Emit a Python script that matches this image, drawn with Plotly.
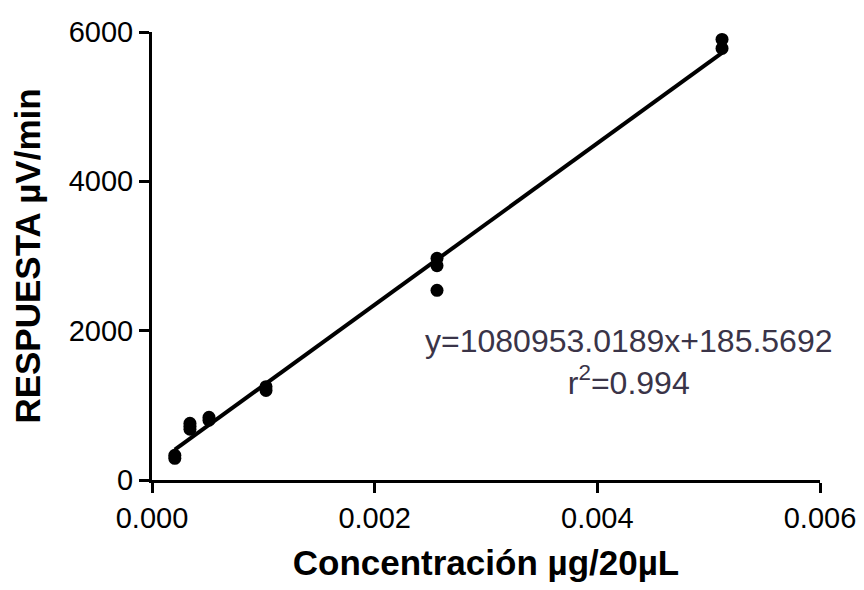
import plotly.graph_objects as go

conc = [0.000205, 0.000205, 0.000341, 0.000341, 0.000341, 0.000512, 0.000512,
        0.001024, 0.001024, 0.00256, 0.00256, 0.00256, 0.00512, 0.00512]
resp = [290, 330, 680, 720, 760, 800, 840,
        1200, 1250, 2870, 2970, 2540, 5780, 5900]
slope = 1080953.0189
intercept = 185.5692
eq_text = "y=1080953.0189x+185.5692<br>r<sup>2</sup>=0.994"
x_ticks = [0.0, 0.002, 0.004, 0.006]
x_labels = ["0.000", "0.002", "0.004", "0.006"]
y_ticks = [0, 2000, 4000, 6000]

xfit = [min(conc), max(conc)]
yfit = [slope * v + intercept for v in xfit]

fig = go.Figure()
fig.add_trace(go.Scatter(x=xfit, y=yfit, mode="lines",
                         line=dict(color="black", width=4), hoverinfo="skip"))
fig.add_trace(go.Scatter(x=conc, y=resp, mode="markers",
                         marker=dict(color="black", size=13)))

fig.add_annotation(x=0.004286, y=1580, xref="x", yref="y", text=eq_text,
                   showarrow=False, align="center",
                   font=dict(family="Liberation Sans", size=32, color="#3a3448"))

axis_font = dict(family="Liberation Sans", size=29, color="black")
title_font = dict(family="Liberation Sans", size=35, color="black", weight="bold")

fig.update_layout(
    width=864, height=590,
    margin=dict(l=152, r=44, t=32, b=110),
    paper_bgcolor="white", plot_bgcolor="white",
    showlegend=False,
    xaxis=dict(range=[0, 0.006], tickvals=x_ticks, ticktext=x_labels,
               automargin=False,
               showgrid=False, zeroline=False, showline=True, linecolor="black",
               linewidth=3, ticks="outside", ticklen=10, tickwidth=3,
               tickcolor="black", tickfont=axis_font,
               title=dict(text="Concentración µg/20µL", font=title_font, standoff=18)),
    yaxis=dict(range=[0, 6000], tickvals=y_ticks,
               automargin=False,
               showgrid=False, zeroline=False, showline=True, linecolor="black",
               linewidth=3, ticks="outside", ticklen=10, tickwidth=3,
               tickcolor="black", tickfont=axis_font,
               title=dict(text="RESPUESTA µV/min", font=title_font, standoff=18)),
)

fig.write_html("out.html")
